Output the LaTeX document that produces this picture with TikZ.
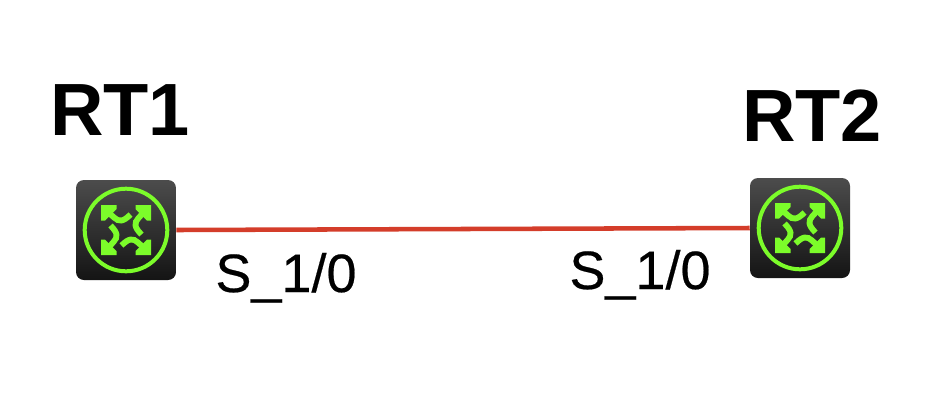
\documentclass[tikz,border=0pt]{standalone}
\usepackage{fontspec}
\setmainfont{Liberation Sans}
\newfontfamily\portfont[FakeBold=0.4]{Liberation Sans}
\definecolor{linkred}{HTML}{D43D2A}
\definecolor{iconGreen}{HTML}{7CFC2A}
\definecolor{boxTop}{HTML}{4C4C4C}
\definecolor{boxBottom}{HTML}{141414}
\tikzset{
  routerbox/.style={minimum size=75pt,inner sep=0pt,rounded corners=6pt,top color=boxTop,bottom color=boxBottom,draw=none},
  routername/.style={font=\fontsize{55.5}{55.5}\selectfont\bfseries,anchor=base,inner sep=0pt},
  portname/.style={font=\portfont\fontsize{40.5}{40.5}\selectfont,anchor=base,inner sep=0pt},
  linkline/.style={draw=linkred,line width=3.4pt},
  routerglyph/.pic={
    \draw[iconGreen,line width=3pt] (0,0) circle[radius=41.3];
    \foreach \a in {0,90,180,270}{
      \begin{scope}[rotate=\a]
        \fill[iconGreen] (-25,-25) -- (-9.5,-25) -- (-9.5,-21) -- (-21,-9.5) -- (-25,-9.5) -- cycle;
        \draw[iconGreen,line width=4.4pt] (-19,-19) -- (-12,-12.5) .. controls (-7,-8) and (-3,-8) .. (4.5,-15.5);
      \end{scope}
    }
  }
}
\begin{document}
\begin{tikzpicture}[x=0.75pt,y=-0.75pt]
\useasboundingbox (0,0) rectangle (945,401);
\fill[white] (0,0) rectangle (945,401);
\node[routerbox] (rt1) at (126,230) {};
\node[routerbox] (rt2) at (800,228) {};
\pic at (rt1.center) {routerglyph};
\pic at (rt2.center) {routerglyph};
\draw[linkline] (rt1.east) -- (rt2.west);
\node[routername] (rt1name) at (120,135) {RT1};
\node[routername] (rt2name) at (812,141) {RT2};
\node[portname] (p1) at (286,292) {S\_1/0};
\node[portname] (p2) at (640,289) {S\_1/0};
\end{tikzpicture}
\end{document}
